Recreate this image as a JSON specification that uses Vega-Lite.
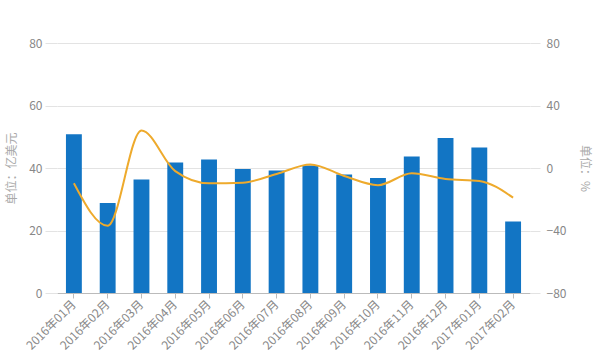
{
  "$schema": "https://vega.github.io/schema/vega-lite/v6.json",
  "autosize": "none",
  "width": 473,
  "height": 250,
  "padding": {"left": 57, "top": 43, "right": 65, "bottom": 66},
  "background": "white",
  "config": {
    "view": {"stroke": null},
    "font": "Noto Sans CJK SC",
    "axis": {"labelColor": "#888888", "labelFontSize": 12, "titleColor": "#aaaaaa", "titleFontWeight": "normal", "titleFontSize": 12, "gridColor": "#e3e3e3", "tickColor": "#dddddd", "domainColor": "#cccccc"}
  },
  "data": {
    "values": [
      {"month": "2016年01月", "amount": 50.8, "growth": -9.8},
      {"month": "2016年02月", "amount": 28.8, "growth": -37},
      {"month": "2016年03月", "amount": 36.3, "growth": 24},
      {"month": "2016年04月", "amount": 41.8, "growth": -2},
      {"month": "2016年05月", "amount": 42.7, "growth": -9.8},
      {"month": "2016年06月", "amount": 39.7, "growth": -9.4},
      {"month": "2016年07月", "amount": 39.2, "growth": -3.8},
      {"month": "2016年08月", "amount": 40.8, "growth": 2.3},
      {"month": "2016年09月", "amount": 37.9, "growth": -5.1},
      {"month": "2016年10月", "amount": 36.8, "growth": -11},
      {"month": "2016年11月", "amount": 43.7, "growth": -3.4},
      {"month": "2016年12月", "amount": 49.6, "growth": -7},
      {"month": "2017年01月", "amount": 46.6, "growth": -8.3},
      {"month": "2017年02月", "amount": 22.9, "growth": -19}
    ]
  },
  "encoding": {
    "x": {
      "field": "month", "type": "ordinal", "sort": null,
      "scale": {"paddingInner": 0.53, "paddingOuter": 0.265},
      "axis": {"title": null, "labelAngle": -45, "labelAlign": "right", "labelBaseline": "middle", "labelPadding": 4, "labelColor": "#888888", "labelFontSize": 12, "tickSize": 5, "tickColor": "#bbbbbb", "domainColor": "#bbbbbb", "grid": false}
    }
  },
  "layer": [
    {
      "mark": {"type": "bar", "color": "#1275c4"},
      "encoding": {
        "y": {
          "field": "amount", "type": "quantitative",
          "scale": {"domain": [0, 80], "nice": false},
          "axis": {"title": "单位：亿美元", "values": [0, 20, 40, 60, 80], "tickSize": 12, "labelPadding": 3, "domain": false, "grid": true, "tickColor": "#e3e3e3", "titlePadding": 10}
        }
      }
    },
    {
      "mark": {"type": "line", "color": "#eeaa2c", "strokeWidth": 2, "interpolate": "monotone"},
      "encoding": {
        "y": {
          "field": "growth", "type": "quantitative",
          "scale": {"domain": [-80, 80], "nice": false},
          "axis": {"title": "单位：%", "orient": "right", "values": [-80, -40, 0, 40, 80], "tickSize": 10, "labelPadding": 6, "domain": false, "grid": false, "tickColor": "#e3e3e3", "titlePadding": 12}
        }
      }
    }
  ],
  "resolve": {"scale": {"y": "independent"}}
}
